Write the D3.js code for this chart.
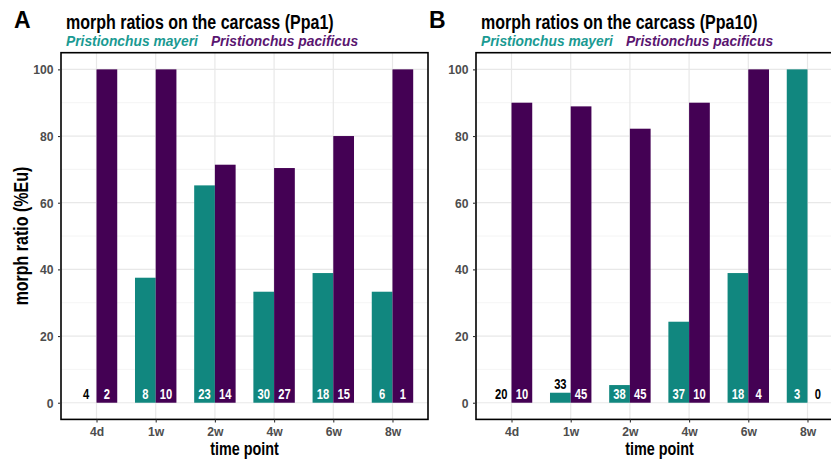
<!DOCTYPE html>
<html>
<head>
<meta charset="utf-8">
<script src="https://cdn.jsdelivr.net/npm/d3@7"></script>
<style>
  html, body { margin: 0; padding: 0; background: #fff; }
  svg { display: block; }
</style>
</head>
<body>
<svg id="chart" width="831" height="459"></svg>
<script>
// Time points on the x axis
const timePoints = ["4d", "1w", "2w", "4w", "6w", "8w"];
const species = ["Pristionchus mayeri", "Pristionchus pacificus"];
const yTicks = [0, 20, 40, 60, 80, 100];

// Ppa1: percentage Eu per time point and sample counts
const ppa1Mayeri = [0, 37.5, 65.2, 33.3, 38.9, 33.3];
const ppa1Pacificus = [100, 100, 71.4, 70.4, 80, 100];
const ppa1MayeriN = [4, 8, 23, 30, 18, 6];
const ppa1PacificusN = [2, 10, 14, 27, 15, 1];

// Ppa10: percentage Eu per time point and sample counts
const ppa10Mayeri = [0, 3.0, 5.3, 24.3, 38.9, 100];
const ppa10Pacificus = [90, 88.9, 82.2, 90, 100, 0];
const ppa10MayeriN = [20, 33, 38, 37, 18, 3];
const ppa10PacificusN = [10, 45, 45, 10, 4, 0];

const colors = { "Pristionchus mayeri": "#11877f", "Pristionchus pacificus": "#440154" };
const subtitleColors = { "Pristionchus mayeri": "#1a9a92", "Pristionchus pacificus": "#5a1670" };

const svg = d3.select("#chart");
const sans = "'Liberation Sans', Arial, sans-serif";
const CONDENSE = 0.8;   // horizontal squeeze for the condensed heading face

function buildRows(mayeri, pacificus, mayeriN, pacificusN) {
  return timePoints.flatMap((t, i) => [
    { time: t, species: species[0], value: mayeri[i], n: mayeriN[i] },
    { time: t, species: species[1], value: pacificus[i], n: pacificusN[i] }
  ]);
}

// bold condensed text placed at (x, y), optionally rotated
function condensedText(parent, x, y, str, size, anchor, rotate, squeeze) {
  return parent.append("text")
    .attr("transform", `translate(${x},${y})${rotate ? ` rotate(${rotate})` : ""} scale(${squeeze || CONDENSE},1)`)
    .attr("text-anchor", anchor || "start")
    .attr("font-family", sans).attr("font-weight", "bold").attr("font-size", size)
    .text(str);
}

function drawPanel(opts) {
  const { left, top, width, height, letter, title, rows, yTitle } = opts;
  const g = svg.append("g");
  const bottom = top + height;

  const y = d3.scaleLinear().domain([-5, 105]).range([bottom, top]);
  const x = d3.scalePoint().domain(timePoints).range([left, left + width]).padding(0.6);
  const dodge = d3.scaleBand().domain(species).range([-x.step() * 0.35, x.step() * 0.35]);

  // grid
  const grid = g.append("g");
  d3.range(10, 110, 20).forEach(v => {
    grid.append("line").attr("x1", left).attr("x2", left + width)
      .attr("y1", y(v)).attr("y2", y(v)).attr("stroke", "#ececec").attr("stroke-width", 0.6);
  });
  yTicks.forEach(v => {
    grid.append("line").attr("x1", left).attr("x2", left + width)
      .attr("y1", y(v)).attr("y2", y(v)).attr("stroke", "#e8e8e8").attr("stroke-width", 1.2);
  });
  timePoints.forEach(t => {
    grid.append("line").attr("x1", x(t)).attr("x2", x(t))
      .attr("y1", top).attr("y2", bottom).attr("stroke", "#e8e8e8").attr("stroke-width", 1.2);
  });

  // bars
  g.append("g").selectAll("rect").data(rows).join("rect")
    .attr("x", d => x(d.time) + dodge(d.species))
    .attr("width", dodge.bandwidth())
    .attr("y", d => y(d.value))
    .attr("height", d => y(0) - y(d.value))
    .attr("fill", d => colors[d.species]);

  // sample counts: inside the bar foot, or above short bars
  const labels = g.append("g");
  rows.forEach(d => {
    const cx = x(d.time) + dodge(d.species) + dodge.bandwidth() / 2;
    const cy = (d.value >= 4 ? y(0) : y(d.value)) - 3.4;
    condensedText(labels, cx, cy, d.n, 14, "middle")
      .attr("fill", d.value >= 4 ? "#ffffff" : "#000000");
  });

  // panel border
  g.append("rect").attr("x", left).attr("y", top).attr("width", width).attr("height", height)
    .attr("fill", "none").attr("stroke", "#000").attr("stroke-width", 1.6);

  // axes
  const yAxis = g.append("g").attr("transform", `translate(${left},0)`)
    .call(d3.axisLeft(y).tickValues(yTicks).tickSize(3).tickPadding(4.5));
  const xAxis = g.append("g").attr("transform", `translate(0,${bottom})`)
    .call(d3.axisBottom(x).tickSize(3).tickPadding(4));
  [yAxis, xAxis].forEach(a => {
    a.select(".domain").remove();
    a.selectAll(".tick line").attr("stroke", "#333").attr("stroke-width", 1.1);
    a.selectAll(".tick text").attr("fill", "#4d4d4d")
      .attr("font-family", sans).attr("font-size", 13.5).attr("font-weight", "bold");
  });
  yAxis.selectAll(".tick text").each(function () {
    const t = d3.select(this);
    t.attr("transform", `translate(${t.attr("x")},0) scale(0.9,1)`).attr("x", 0);
  });
  xAxis.selectAll(".tick text").attr("transform", "scale(0.9,1)");

  // titles
  g.append("text").attr("x", left - 47).attr("y", 28)
    .attr("font-family", sans).attr("font-weight", "bold").attr("font-size", 23)
    .text(letter);
  condensedText(g, left + 5, 28.5, title, 20);
  const sub = g.append("text").attr("x", left + 5).attr("y", 46)
    .attr("font-family", sans).attr("font-weight", "bold").attr("font-style", "italic")
    .attr("font-size", 13.8);
  species.forEach((s, i) => {
    sub.append("tspan").attr("fill", subtitleColors[s]).attr("dx", i > 0 ? 13 : 0).text(s);
  });

  condensedText(g, left + width / 2, 454.5, "time point", 18, "middle");

  if (yTitle) {
    condensedText(g, 28, (top + bottom) / 2, yTitle, 20, "middle", -90);
  }
}

drawPanel({
  left: 61, top: 52.7, width: 367, height: 366.7, letter: "A",
  title: "morph ratios on the carcass (Ppa1)",
  rows: buildRows(ppa1Mayeri, ppa1Pacificus, ppa1MayeriN, ppa1PacificusN),
  yTitle: "morph ratio (%Eu)"
});
drawPanel({
  left: 476, top: 52.7, width: 367, height: 366.7, letter: "B",
  title: "morph ratios on the carcass (Ppa10)",
  rows: buildRows(ppa10Mayeri, ppa10Pacificus, ppa10MayeriN, ppa10PacificusN)
});
</script>
</body>
</html>
